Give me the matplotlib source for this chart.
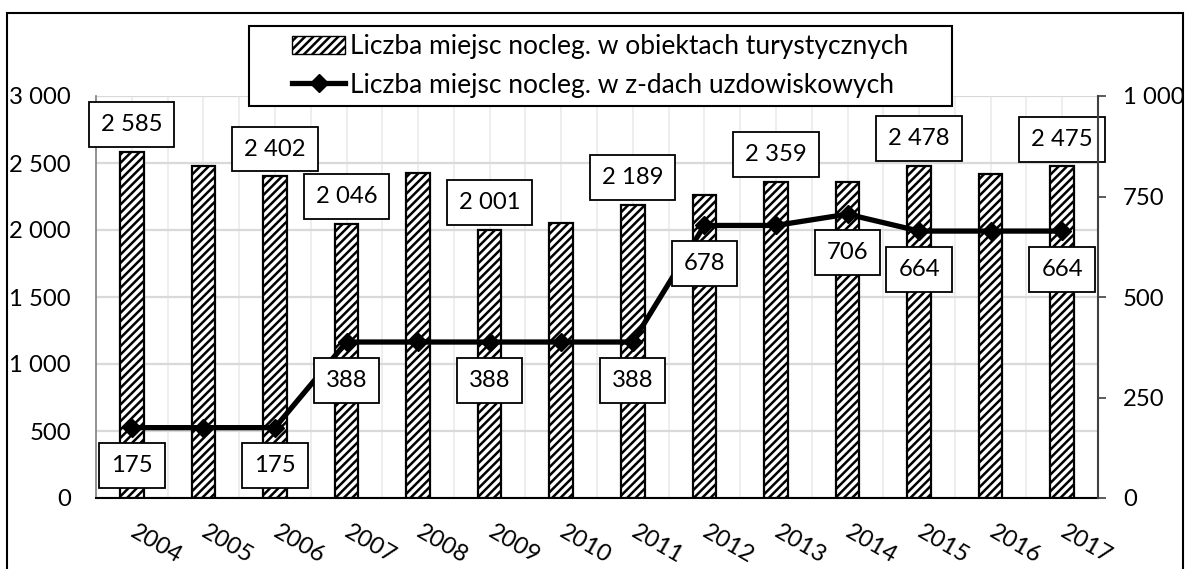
import numpy as np
import matplotlib
matplotlib.use("Agg")
import matplotlib.pyplot as plt
from matplotlib.patches import Patch, Rectangle
from matplotlib.lines import Line2D

years = ["2004", "2005", "2006", "2007", "2008", "2009", "2010",
         "2011", "2012", "2013", "2014", "2015", "2016", "2017"]
beds_tourist = [2585, 2480, 2402, 2046, 2423, 2001, 2054,
                2189, 2261, 2359, 2360, 2478, 2418, 2475]
beds_spa = [175, 175, 175, 388, 388, 388, 388,
            388, 678, 678, 706, 664, 664, 664]
bar_label_years = ["2004", "2006", "2007", "2009", "2011", "2013", "2015", "2017"]
line_label_years = ["2004", "2006", "2007", "2009", "2011", "2012", "2014", "2015", "2017"]
left_ticks = [0, 500, 1000, 1500, 2000, 2500, 3000]
right_ticks = [0, 250, 500, 750, 1000]
legend_labels = ["Liczba miejsc nocleg. w obiektach turystycznych",
                 "Liczba miejsc nocleg. w z-dach uzdowiskowych"]

FONT = "Lato"
FS = 17.2
FS_LEG = 19
plt.rcParams["font.family"] = [FONT, "DejaVu Sans"]
plt.rcParams["hatch.linewidth"] = 1.8


def fmt(v):
    return f"{v:,}".replace(",", " ")


W, H = 1185, 569
fig = plt.figure(figsize=(W / 100, H / 100), dpi=100)
ax = fig.add_axes([96 / W, 1 - 498 / H, (1098 - 96) / W, (498 - 96) / H])
x = np.arange(len(years))

ax.set_xlim(-0.5, len(years) - 0.5)
ax.set_ylim(0, 3000)
ax.set_axisbelow(True)
ax.bar(x, beds_tourist, width=0.33, color="white", edgecolor="black",
       hatch="////", linewidth=1.6, zorder=3)

ax.set_yticks(left_ticks)
ax.set_yticklabels([fmt(v) for v in left_ticks], fontsize=FS)
ax.set_xticks(x)
ax.set_xticks(x + 0.5, minor=True)
ax.set_xticklabels(years, fontsize=FS)
ax.yaxis.grid(True, color="#d9d9d9", lw=1.6)
ax.xaxis.grid(True, which="both", color="#ebebeb", lw=1.2)
ax.tick_params(axis="x", which="both", length=0, pad=23)
ax.tick_params(axis="y", length=0, pad=18)
for lbl in ax.get_xticklabels():
    lbl.set_rotation(-30)
    lbl.set_ha("left")
    lbl.set_va("center")
    lbl.set_rotation_mode("anchor")
for s in ["top", "right"]:
    ax.spines[s].set_visible(False)
ax.spines["left"].set_color("#7f7f7f")
ax.spines["left"].set_linewidth(1.2)
ax.spines["bottom"].set_color("black")
ax.spines["bottom"].set_linewidth(1.5)

box = dict(boxstyle="square,pad=0.5", fc="white", ec="black", lw=1.3)

for i, y in enumerate(years):
    if y in bar_label_years:
        ax.annotate(fmt(beds_tourist[i]), (x[i], beds_tourist[i]),
                    xytext=(0, 19.5), textcoords="offset points",
                    ha="center", va="center", fontsize=FS, zorder=6,
                    bbox=box)

ax2 = ax.twinx()
ax2.set_ylim(0, 1000)
ax2.set_yticks(right_ticks)
ax2.set_yticklabels([fmt(v) for v in right_ticks], fontsize=FS)
ax2.tick_params(axis="y", length=6, width=1.2, pad=12, direction="out",
                color="#404040")
for s in ["top", "left", "bottom"]:
    ax2.spines[s].set_visible(False)
ax2.spines["right"].set_color("#404040")
ax2.spines["right"].set_linewidth(1.5)
ax2.plot(x, beds_spa, color="black", lw=3.8, marker="D", markersize=9, zorder=5)

for i, y in enumerate(years):
    if y in line_label_years:
        ax2.annotate(fmt(beds_spa[i]), (x[i], beds_spa[i]),
                     xytext=(0, -27.5), textcoords="offset points",
                     ha="center", va="center", fontsize=FS, zorder=6,
                     bbox=box)

# legend frame and legend
fig.add_artist(Rectangle((249 / W, 1 - 106 / H), 703 / W, 80 / H,
                         transform=fig.transFigure, fc="white", ec="black",
                         lw=1.5, zorder=5))
handles = [Patch(fc="white", ec="black", hatch="////", lw=1.0),
           Line2D([], [], color="black", lw=3.8, marker="D", markersize=9)]
leg = fig.legend(handles, legend_labels, loc="center",
                 bbox_to_anchor=(600.5 / W, 1 - 66 / H), frameon=False,
                 fontsize=FS_LEG, handlelength=2.0, handletextpad=0.2,
                 labelspacing=0.5, borderaxespad=0, borderpad=0)
leg.set_zorder(6)

# outer border
fig.add_artist(Rectangle((7 / W, -0.01), (1183 - 7) / W, 0.01 + 1 - 13 / H,
                         transform=fig.transFigure, fill=False, ec="black",
                         lw=1.5, zorder=7))

fig.savefig("out.png", dpi=100)
